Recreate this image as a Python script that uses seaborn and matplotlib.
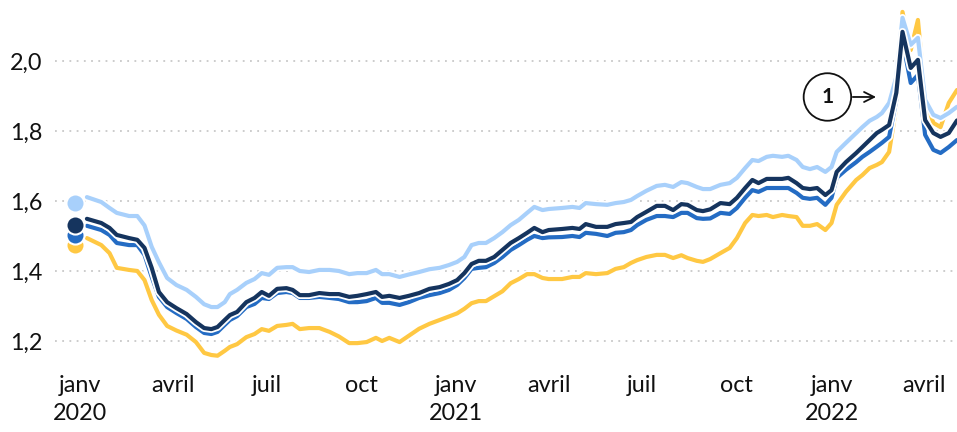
import matplotlib
matplotlib.use("Agg")
import matplotlib.pyplot as plt
import matplotlib.patheffects as pe
import seaborn as sns
import pandas as pd

dates = [
    "2020-01-08", "2020-01-22", "2020-01-30", "2020-02-06", "2020-02-18", "2020-02-26", "2020-03-04", "2020-03-11",
    "2020-03-18", "2020-03-26", "2020-04-04", "2020-04-14", "2020-04-23", "2020-05-01", "2020-05-08", "2020-05-14",
    "2020-05-21", "2020-05-26", "2020-06-02", "2020-06-11", "2020-06-19", "2020-06-26", "2020-07-03", "2020-07-11",
    "2020-07-20", "2020-07-26", "2020-08-02", "2020-08-11", "2020-08-21", "2020-08-31", "2020-09-09", "2020-09-19",
    "2020-09-27", "2020-10-06", "2020-10-15", "2020-10-21", "2020-10-28", "2020-11-07", "2020-11-16", "2020-11-26",
    "2020-12-06", "2020-12-16", "2020-12-25", "2021-01-02", "2021-01-09", "2021-01-16", "2021-01-23", "2021-01-30",
    "2021-02-07", "2021-02-15", "2021-02-23", "2021-03-03", "2021-03-11", "2021-03-18", "2021-03-26", "2021-04-01",
    "2021-04-14", "2021-04-24", "2021-05-01", "2021-05-07", "2021-05-17", "2021-05-28", "2021-06-05", "2021-06-13",
    "2021-06-20", "2021-06-26", "2021-07-05", "2021-07-15", "2021-07-23", "2021-07-31", "2021-08-08", "2021-08-14",
    "2021-08-23", "2021-08-29", "2021-09-05", "2021-09-15", "2021-09-24", "2021-10-01", "2021-10-09", "2021-10-16",
    "2021-10-22", "2021-10-30", "2021-11-05", "2021-11-14", "2021-11-20", "2021-11-28", "2021-12-04", "2021-12-11",
    "2021-12-18", "2021-12-26", "2022-01-01", "2022-01-06", "2022-01-15", "2022-01-25", "2022-01-31", "2022-02-07",
    "2022-02-14", "2022-02-19", "2022-02-26", "2022-03-05", "2022-03-11", "2022-03-19", "2022-03-26", "2022-04-02",
    "2022-04-10", "2022-04-17", "2022-04-25", "2022-05-03",
]

light_blue = [
    1.611, 1.597, 1.580, 1.566, 1.557, 1.557, 1.530, 1.469, 1.425, 1.380, 1.360, 1.346, 1.326, 1.305, 1.297, 1.297,
    1.311, 1.334, 1.346, 1.366, 1.377, 1.394, 1.389, 1.409, 1.411, 1.411, 1.400, 1.397, 1.403, 1.403, 1.400, 1.391,
    1.394, 1.394, 1.403, 1.391, 1.391, 1.383, 1.390, 1.397, 1.405, 1.409, 1.417, 1.426, 1.440, 1.474, 1.480, 1.480,
    1.494, 1.511, 1.531, 1.546, 1.566, 1.583, 1.574, 1.577, 1.580, 1.583, 1.580, 1.594, 1.591, 1.589, 1.594, 1.597,
    1.603, 1.614, 1.629, 1.643, 1.646, 1.640, 1.654, 1.651, 1.640, 1.634, 1.634, 1.646, 1.651, 1.666, 1.694, 1.717,
    1.714, 1.726, 1.729, 1.726, 1.729, 1.717, 1.697, 1.691, 1.697, 1.683, 1.697, 1.740, 1.766, 1.794, 1.811, 1.829,
    1.840, 1.851, 1.880, 1.954, 2.123, 2.046, 2.066, 1.889, 1.846, 1.837, 1.851, 1.869,
]

navy = [
    1.549, 1.537, 1.523, 1.503, 1.494, 1.489, 1.466, 1.409, 1.340, 1.311, 1.294, 1.277, 1.254, 1.237, 1.234, 1.240,
    1.260, 1.274, 1.283, 1.311, 1.323, 1.340, 1.329, 1.349, 1.351, 1.346, 1.331, 1.331, 1.337, 1.334, 1.334, 1.326,
    1.329, 1.334, 1.340, 1.326, 1.329, 1.323, 1.329, 1.337, 1.349, 1.354, 1.363, 1.374, 1.394, 1.420, 1.429, 1.429,
    1.440, 1.460, 1.480, 1.494, 1.509, 1.523, 1.511, 1.517, 1.520, 1.523, 1.520, 1.534, 1.526, 1.526, 1.534, 1.537,
    1.540, 1.554, 1.569, 1.586, 1.586, 1.574, 1.591, 1.589, 1.574, 1.571, 1.576, 1.594, 1.591, 1.609, 1.637, 1.660,
    1.651, 1.663, 1.663, 1.663, 1.666, 1.651, 1.637, 1.634, 1.637, 1.617, 1.631, 1.683, 1.711, 1.737, 1.754, 1.774,
    1.794, 1.803, 1.817, 1.909, 2.083, 1.980, 2.003, 1.831, 1.794, 1.783, 1.794, 1.830,
]

medium_blue = [
    1.529, 1.517, 1.503, 1.480, 1.474, 1.474, 1.446, 1.383, 1.326, 1.297, 1.280, 1.263, 1.240, 1.223, 1.220, 1.226,
    1.246, 1.260, 1.271, 1.297, 1.306, 1.323, 1.320, 1.337, 1.340, 1.337, 1.323, 1.323, 1.326, 1.323, 1.320, 1.311,
    1.311, 1.314, 1.323, 1.309, 1.309, 1.303, 1.311, 1.323, 1.331, 1.337, 1.346, 1.360, 1.380, 1.406, 1.409, 1.411,
    1.423, 1.440, 1.460, 1.474, 1.489, 1.500, 1.494, 1.496, 1.497, 1.500, 1.497, 1.509, 1.506, 1.500, 1.509, 1.511,
    1.517, 1.531, 1.546, 1.557, 1.557, 1.554, 1.566, 1.566, 1.551, 1.549, 1.550, 1.566, 1.563, 1.580, 1.609, 1.631,
    1.626, 1.637, 1.637, 1.637, 1.637, 1.623, 1.609, 1.606, 1.609, 1.589, 1.609, 1.666, 1.689, 1.711, 1.726, 1.740,
    1.755, 1.766, 1.783, 1.889, 2.060, 1.937, 1.960, 1.789, 1.746, 1.737, 1.754, 1.774,
]

yellow = [
    1.494, 1.474, 1.451, 1.409, 1.403, 1.400, 1.374, 1.317, 1.275, 1.243, 1.230, 1.218, 1.197, 1.166, 1.160, 1.158,
    1.172, 1.183, 1.191, 1.211, 1.220, 1.234, 1.229, 1.243, 1.246, 1.249, 1.234, 1.237, 1.237, 1.226, 1.213, 1.194,
    1.194, 1.197, 1.209, 1.200, 1.209, 1.197, 1.215, 1.235, 1.249, 1.260, 1.270, 1.279, 1.292, 1.308, 1.314, 1.314,
    1.328, 1.342, 1.365, 1.377, 1.391, 1.391, 1.380, 1.377, 1.377, 1.383, 1.383, 1.394, 1.391, 1.394, 1.406, 1.411,
    1.423, 1.431, 1.440, 1.446, 1.446, 1.437, 1.445, 1.437, 1.429, 1.426, 1.434, 1.451, 1.466, 1.494, 1.537, 1.560,
    1.557, 1.560, 1.554, 1.560, 1.557, 1.554, 1.529, 1.529, 1.534, 1.517, 1.537, 1.589, 1.626, 1.660, 1.674, 1.694,
    1.703, 1.711, 1.740, 1.870, 2.140, 2.031, 2.117, 1.897, 1.823, 1.811, 1.880, 1.917,
]

start_date = "2019-12-27"
start_values = {"light_blue": 1.594, "yellow": 1.474, "medium_blue": 1.503, "navy": 1.531}

y_ticks = [1.2, 1.4, 1.6, 1.8, 2.0]
x_tick_dates = ["2020-01-01", "2020-04-01", "2020-07-01", "2020-10-01", "2021-01-01", "2021-04-01",
                "2021-07-01", "2021-10-01", "2022-01-01", "2022-04-01"]
x_tick_labels = ["janv\n2020", "avril", "juil", "oct", "janv\n2021", "avril", "juil", "oct", "janv\n2022", "avril"]

colors = {"light_blue": "#a8d0fb", "yellow": "#ffc843", "medium_blue": "#246cc4", "navy": "#15345e"}
series = {"light_blue": light_blue, "yellow": yellow, "medium_blue": medium_blue, "navy": navy}
draw_order = ["yellow", "light_blue", "medium_blue", "navy"]

sns.set_theme(style="white")
plt.rcParams["font.family"] = ["Lato", "DejaVu Sans"]

d = pd.to_datetime(dates)
frames = []
for name, vals in series.items():
    frames.append(pd.DataFrame({"date": d, "value": vals, "serie": name}))
df = pd.concat(frames, ignore_index=True)

fig = plt.figure(figsize=(9.57, 4.32), dpi=100)
ax = fig.add_axes([0.0575, 0.162, 0.9425, 0.838])

stroke = [pe.Stroke(linewidth=5.6, foreground="white"), pe.Normal()]
for name in draw_order:
    sub = df[df["serie"] == name]
    sns.lineplot(data=sub, x="date", y="value", color=colors[name], linewidth=3.0, ax=ax,
                 path_effects=stroke, solid_joinstyle="round", solid_capstyle="round", zorder=3)

sd = pd.to_datetime([start_date])
for name in ["light_blue", "yellow", "medium_blue", "navy"]:
    ax.scatter(sd, [start_values[name]], s=170, color=colors[name], edgecolor="white",
               linewidth=1.5, zorder=5, clip_on=False)

ax.set_ylim(1.14, 2.174)
ax.set_xlim(pd.Timestamp("2019-12-08"), pd.Timestamp("2022-05-03"))
ax.set_yticks(y_ticks)
ax.set_yticklabels([f"{v:.1f}".replace(".", ",") for v in y_ticks])
ax.set_xticks(pd.to_datetime(x_tick_dates))
ax.set_xticklabels(x_tick_labels, linespacing=1.45)
ax.tick_params(axis="both", length=0, labelsize=16.8, colors="#111111")
ax.tick_params(axis="y", pad=9)
ax.tick_params(axis="x", pad=9)
for lbl in ax.get_xticklabels():
    lbl.set_verticalalignment("top")
ax.grid(axis="y", color="#c8c8c8", linestyle=(0, (1, 3)), linewidth=1.3)
ax.grid(axis="x", visible=False)
ax.set_xlabel("")
ax.set_ylabel("")
for s in ax.spines.values():
    s.set_visible(False)

ax.annotate("", xy=(pd.Timestamp("2022-02-16"), 1.897), xytext=(pd.Timestamp("2022-01-19"), 1.897),
            arrowprops=dict(arrowstyle="->", color="#111111", lw=1.3, mutation_scale=18), zorder=6)
ax.text(pd.Timestamp("2021-12-28"), 1.897, "1", ha="center", va="center", fontsize=15, fontweight="bold",
        color="#111111", zorder=7,
        bbox=dict(boxstyle="circle,pad=0.66", facecolor="white", edgecolor="#111111", linewidth=1.3))

fig.savefig("out.png", dpi=100)
